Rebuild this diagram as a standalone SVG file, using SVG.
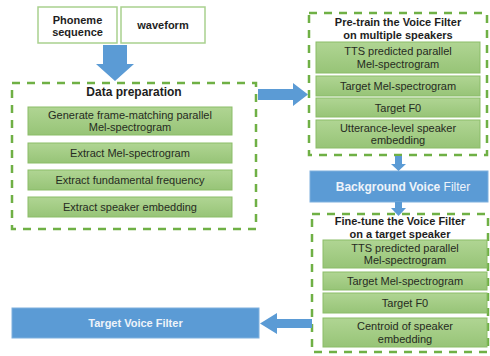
<svg xmlns="http://www.w3.org/2000/svg" width="490" height="356" viewBox="0 0 490 356">
<defs>
<linearGradient id="gg" x1="0" y1="0" x2="0" y2="1">
<stop offset="0" stop-color="#b0d593"/>
<stop offset="1" stop-color="#97c477"/>
</linearGradient>
<style>
text{font-family:"Liberation Sans",Arial,sans-serif;text-anchor:middle;dominant-baseline:central}
.in{fill:#fff;stroke:#a9d18e;stroke-width:1.5}
.dash{fill:none;stroke:#6fb045;stroke-width:2.5;stroke-dasharray:8 7}
.g{fill:url(#gg);stroke:#8bbd68;stroke-width:1}
.t{font-size:11px;fill:#262b22}
.h{font-size:11px;font-weight:bold;fill:#1e1e1e}
.blue{fill:#5b9bd5;stroke:#7fb0de;stroke-width:1}
.bt{font-size:11px;font-weight:bold;fill:#eef3fa}
.arr{fill:#5b9bd5}
</style>
</defs>
<rect width="490" height="356" fill="#fff"/>

<g id="phoneme">
<rect class="in" x="38" y="7" width="79" height="36"/>
<text class="h" x="77.5" y="19.5">Phoneme</text>
<text class="h" x="77.5" y="32">sequence</text>
</g>
<g id="waveform">
<rect class="in" x="121" y="7" width="84" height="36"/>
<text class="h" x="163" y="25">waveform</text>
</g>

<g id="data-preparation">
<rect class="dash" x="12" y="83" width="244" height="146"/>
<text class="h" x="134" y="92" style="font-size:12px">Data preparation</text>
<rect class="g" x="28" y="107" width="204" height="28"/>
<text class="t" x="130" y="114.8">Generate frame-matching parallel</text>
<text class="t" x="130" y="127.3">Mel-spectrogram</text>
<rect class="g" x="28" y="143" width="204" height="20"/>
<text class="t" x="130" y="153">Extract Mel-spectrogram</text>
<rect class="g" x="28" y="170" width="204" height="20"/>
<text class="t" x="130" y="180">Extract fundamental frequency</text>
<rect class="g" x="28" y="197" width="204" height="20"/>
<text class="t" x="130" y="207">Extract speaker embedding</text>
</g>

<g id="pretrain">
<rect class="dash" x="309" y="13" width="178" height="142"/>
<text class="h" x="398" y="22">Pre-train the Voice Filter</text>
<text class="h" x="398" y="34.5">on multiple speakers</text>
<rect class="g" x="316" y="42" width="164" height="31"/>
<text class="t" x="398" y="51.3">TTS predicted parallel</text>
<text class="t" x="398" y="63.8">Mel-spectrogram</text>
<rect class="g" x="316" y="76" width="164" height="20"/>
<text class="t" x="398" y="86">Target Mel-spectrogram</text>
<rect class="g" x="316" y="98" width="164" height="19"/>
<text class="t" x="398" y="107.5">Target F0</text>
<rect class="g" x="316" y="120" width="164" height="28"/>
<text class="t" x="398" y="127.8">Utterance-level speaker</text>
<text class="t" x="398" y="140.3">embedding</text>
</g>

<g id="background-voice-filter">
<rect class="blue" x="310" y="171" width="178" height="31"/>
<text class="bt" x="403" y="186.5" style="font-size:12px"><tspan>Background </tspan><tspan style="font-weight:900">Voice</tspan><tspan font-weight="normal"> Filter</tspan></text>
</g>

<g id="finetune">
<rect class="dash" x="312" y="214" width="176" height="138"/>
<text class="h" x="400" y="221">Fine-tune the Voice Filter</text>
<text class="h" x="400" y="233.5">on a target speaker</text>
<rect class="g" x="323" y="240" width="164" height="28"/>
<text class="t" x="405" y="247.8">TTS predicted parallel</text>
<text class="t" x="405" y="260.3">Mel-spectrogram</text>
<rect class="g" x="323" y="272" width="164" height="18"/>
<text class="t" x="405" y="281">Target Mel-spectrogram</text>
<rect class="g" x="323" y="293" width="164" height="20"/>
<text class="t" x="405" y="303">Target F0</text>
<rect class="g" x="323" y="318" width="164" height="29"/>
<text class="t" x="405" y="326.3">Centroid of speaker</text>
<text class="t" x="405" y="338.8">embedding</text>
</g>

<g id="target-voice-filter">
<rect class="blue" x="12" y="308" width="247" height="30"/>
<text class="bt" x="135.5" y="323">Target Voice Filter</text>
</g>

<g id="connectors">
<polygon class="arr" points="103,45 127,45 127,64 134,64 115,81 96,64 103,64"/>
<polygon class="arr" points="258,89 293,89 293,83 308,94.5 293,106 293,100 258,100"/>
<polygon class="arr" points="395,156 402,156 402,164 406,164 398.5,171 391,164 395,164"/>
<polygon class="arr" points="395,202 402,202 402,208 406,208 398.5,216 391,208 395,208"/>
<polygon class="arr" points="312,319 277,319 277,313 260,323.5 277,334 277,328 312,328"/>
</g>
</svg>
